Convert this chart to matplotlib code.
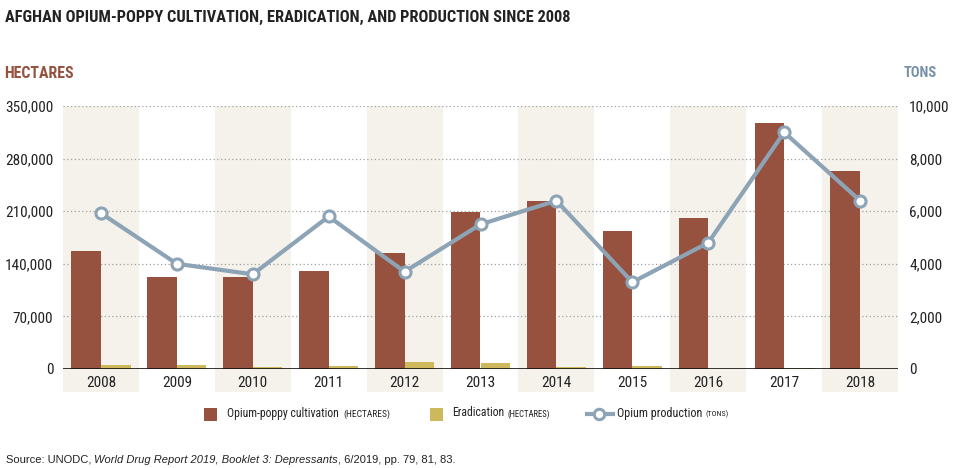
import matplotlib
matplotlib.use("Agg")
import matplotlib.pyplot as plt
from matplotlib.patches import Rectangle
from matplotlib.lines import Line2D
from matplotlib import font_manager
import numpy as np

years = ["2008", "2009", "2010", "2011", "2012", "2013", "2014", "2015", "2016", "2017", "2018"]
cultivation = [157000, 123000, 123000, 131000, 154000, 209000, 224000, 183000, 201000, 328000, 263000]
eradication = [5480, 5351, 2316, 3810, 9672, 7348, 2692, 3760, 355, 750, 406]
production = [5925, 4000, 3600, 5800, 3700, 5500, 6400, 3300, 4800, 9000, 6400]
ha_ticks = [0, 70000, 140000, 210000, 280000, 350000]
ton_ticks = [0, 2000, 4000, 6000, 8000, 10000]

# --- font selection: prefer a condensed face
flist = font_manager.fontManager.ttflist
names = {f.name for f in flist}
COND = None
COND_STRETCH = "normal"
for cand in ["Liberation Sans Narrow", "Roboto Condensed", "Open Sans Condensed", "Noto Sans Condensed"]:
    if cand in names:
        COND = cand
        break
if COND is None:
    for f in flist:
        if f.name in ("DejaVu Sans", "Noto Sans", "Open Sans", "Roboto") and str(f.stretch) in ("condensed", "semi-condensed", "extra-condensed", "75", "87"):
            COND = f.name
            COND_STRETCH = f.stretch
            break
if COND is None:
    COND = "DejaVu Sans"
REG = "Liberation Sans" if "Liberation Sans" in names else ("Arimo" if "Arimo" in names else "DejaVu Sans")

plt.rcParams["font.family"] = [COND, "DejaVu Sans"]

C_CULT = "#96513f"
C_ERAD = "#cdb95c"
C_LINE = "#8da3b6"
C_BAND = "#f4f2eb"
C_TEXT = "#222222"

W, H = 959, 468
fig = plt.figure(figsize=(W / 100, H / 100), dpi=100)
x0, x1, yb, yt = 63, 898, 369, 106
ax = fig.add_axes([x0 / W, 1 - yb / H, (x1 - x0) / W, (yb - yt) / H])
ax2 = ax.twinx()

n = len(years)
x = np.arange(n)
ax.set_xlim(-0.5, n - 0.5)
ax.set_ylim(0, 350000)
ax2.set_ylim(0, 10000)

band_bottom = -(392 - yb) / (yb - yt)
for i in range(0, n, 2):
    r = Rectangle((i - 0.5, band_bottom), 1, 1 - band_bottom, transform=ax.get_xaxis_transform(),
                  facecolor=C_BAND, edgecolor="none", zorder=0, clip_on=False)
    ax.add_patch(r)

for t in ha_ticks[1:]:
    ax.axhline(t, color="#a0a0a0", lw=0.9, ls=(0, (1, 2)), zorder=1)

bw = 0.39
ax.bar(x - bw / 2, cultivation, width=bw, color=C_CULT, zorder=2)
ax.bar(x + bw / 2, eradication, width=bw, color=C_ERAD, zorder=2)
ax.axhline(0, color="#111111", lw=1.2, zorder=3)

ax2.plot(x, production, color=C_LINE, lw=3, marker="o", ms=8, mfc="white", mec=C_LINE, mew=2.2, zorder=5)

for a in (ax, ax2):
    for s in a.spines.values():
        s.set_visible(False)
    a.patch.set_visible(False)

tick_kw = dict(fontsize=11, color=C_TEXT, fontstretch=COND_STRETCH)
ax.set_xticks(x)
ax.set_xticklabels(years, **tick_kw)
ax.tick_params(axis="x", length=0, pad=5)
ax.set_yticks(ha_ticks)
ax.set_yticklabels([f"{v:,}" for v in ha_ticks], **tick_kw)
ax.tick_params(axis="y", length=0, pad=7)
ax2.set_yticks(ton_ticks)
ax2.set_yticklabels([f"{v:,}" for v in ton_ticks], **tick_kw)
ax2.tick_params(axis="y", length=0, pad=8)

fig.canvas.draw()
renderer = fig.canvas.get_renderer()


def fit_text(xpx, ypx, s, target_w, size, ha="left", grow=False, **kw):
    kw.setdefault("color", C_TEXT)
    kw.setdefault("fontstretch", COND_STRETCH)
    t = fig.text(xpx / W, 1 - ypx / H, s, va="center", ha=ha, fontsize=size, **kw)
    w = t.get_window_extent(renderer).width
    if w > target_w or grow:
        t.set_fontsize(size * target_w / w)
    return t


fit_text(5, 17, "AFGHAN OPIUM-POPPY CULTIVATION, ERADICATION, AND PRODUCTION SINCE 2008", 572, 15,
         grow=True, fontweight="bold")
fit_text(4, 73, "HECTARES", 70, 12.5, grow=True, fontweight="bold", color=C_CULT)
fit_text(937, 73, "TONS", 33, 12.5, ha="right", grow=True, fontweight="bold", color="#7690a6")

# legend
ly = 1 - 414 / H
sq = 13
fig.patches.append(Rectangle((204 / W, ly - sq / 2 / H), sq / W, sq / H, facecolor=C_CULT,
                             edgecolor="none", transform=fig.transFigure))
fig.patches.append(Rectangle((430 / W, ly - sq / 2 / H), sq / W, sq / H, facecolor=C_ERAD,
                             edgecolor="none", transform=fig.transFigure))
fig.lines.append(Line2D([587 / W, 613 / W], [ly, ly], color=C_LINE, lw=3, transform=fig.transFigure))
fig.lines.append(Line2D([599 / W], [ly], color=C_LINE, marker="o", ms=7.5, mfc="white", mec=C_LINE, mew=2.2,
                        transform=fig.transFigure))

fit_text(227, 413, "Opium-poppy cultivation", 112, 12, grow=True)
fit_text(343, 414, "(HECTARES)", 47, 8, grow=True)
fit_text(452, 413, "Eradication", 52, 12, grow=True)
fit_text(508, 414, "(HECTARES)", 43, 8, grow=True)
fit_text(617, 413, "Opium production", 85, 12, grow=True)
fit_text(706, 414, "(TONS)", 23, 8, grow=True)


def seq(xpx, ypx, parts, target_w):
    ts = []
    cur = xpx
    for txt, kw in parts:
        t = fig.text(cur / W, 1 - ypx / H, txt, va="center", ha="left", color=C_TEXT, **kw)
        ts.append(t)
        cur = t.get_window_extent(renderer).x1
    scale = target_w / (cur - xpx)
    cur = xpx
    for t in ts:
        t.set_fontsize(t.get_fontsize() * scale)
        t.set_x(cur / W)
        cur = t.get_window_extent(renderer).x1
    return cur


src_kw = dict(fontsize=9, fontfamily=REG)
seq(6, 460, [("Source: UNODC, ", src_kw),
             ("World Drug Report 2019, Booklet 3: Depressants", dict(src_kw, style="italic")),
             (", 6/2019, pp. 79, 81, 83.", src_kw)], 449)

fig.savefig("out.png", dpi=100, facecolor="white")
